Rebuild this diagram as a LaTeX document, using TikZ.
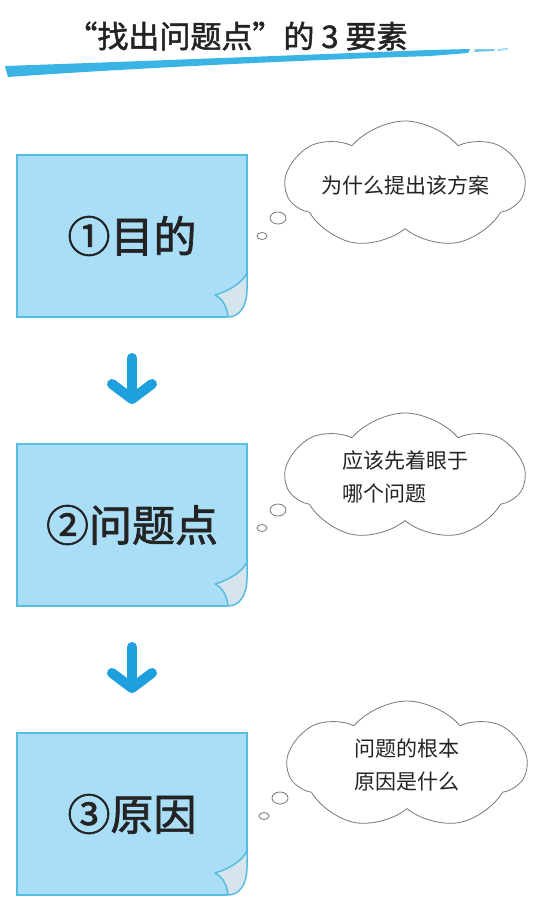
\documentclass[tikz,border=0pt]{standalone}
\usepackage{fontspec}
\usetikzlibrary{shapes.symbols, arrows.meta}
\newfontfamily\cjk{Noto Sans CJK SC}
\newfontfamily\cjkheavy[FakeBold=1.6]{Noto Sans CJK SC}
\definecolor{notefill}{RGB}{170,222,247}
\definecolor{noteline}{RGB}{86,188,226}
\definecolor{curlfill}{RGB}{214,228,236}
\definecolor{arrowblue}{RGB}{30,160,222}
\definecolor{brushblue}{RGB}{58,180,228}
\definecolor{cloudline}{RGB}{120,120,120}
\definecolor{inktext}{RGB}{35,35,35}
\tikzset{note/.style={rectangle,fill=notefill,draw=noteline,line width=2pt,outer sep=0pt,
        minimum width=230pt,minimum height=162pt,text=inktext,font=\cjkheavy\fontsize{43}{43}\selectfont},
    thought/.style={cloud,cloud puffs=7,cloud puff arc=100,cloud ignores aspect,draw=cloudline,
        line width=0.8pt,minimum width=238pt,minimum height=128pt,inner sep=0pt,align=left,
        text=inktext,font=\cjk\fontsize{21}{33}\selectfont},
    flow/.style={draw=arrowblue,line width=10pt,line cap=round,
        -{Straight Barb[length=15pt,width=40pt,round]},shorten <=41pt,shorten >=40pt},
    puff/.style={draw=cloudline,line width=0.8pt,fill=white}}
% folded corner of a note
\newcommand{\curl}[1]{\begin{scope}[shift={(#1.south east)}]
    \fill[white] (1.5,-30) -- (1.5,1.5) -- (-21,1.5) -- (-19,0) .. controls (-8,0) and (0,-10) .. (0,-28) -- cycle;
    \filldraw[fill=curlfill,draw=noteline,line width=1.5pt,line join=round] (-32,-22) .. controls (-18,-26) and (-5,-34) .. (0,-44)
        -- (0,-28) .. controls (0,-10) and (-8,0) .. (-19,0) .. controls (-20,-10) and (-24,-18) .. cycle;
    \end{scope}}
% small bubbles of a thought cloud
\newcommand{\puffs}[1]{\begin{scope}[shift={(#1.center)}]
    \draw[puff] (-127,33) ellipse (8pt and 6pt);
    \draw[puff] (-143,51) ellipse (5pt and 3.5pt);
    \end{scope}}

\begin{document}
\begin{tikzpicture}[x=1pt,y=-1pt]
    \useasboundingbox[fill=white] (0,0) rectangle (551,900);

    % title and brush stroke
    \fill[brushblue] (5,66) .. controls (120,62) and (300,55) .. (430,50) -- (432,56)
        .. controls (300,60) and (120,69) .. (8,77) -- cycle;
    \fill[brushblue] (430,50) -- (470,49) -- (468,53) -- (430,56) -- cycle;
    \fill[brushblue!70] (475,49) -- (495,49) -- (494,51) -- (474,52) -- cycle;
    \fill[brushblue!50] (498,49) -- (508,48) -- (507,50) -- (497,51) -- cycle;
    \node[text=inktext,font=\cjkheavy\fontsize{31}{31}\selectfont] (title) at (237,36) {“找出问题点”的 3 要素};

    \node[note] (goal) at (132,236) {①目的\hspace{16pt}};
    \node[note] (problem) at (132,525) {②问题点\hspace{16pt}};
    \node[note] (cause) at (132,814) {③原因\hspace{14pt}};
    \curl{goal}
    \curl{problem}
    \curl{cause}

    \draw[flow] (goal) -- (problem);
    \draw[flow] (problem) -- (cause);

    \node[thought] (why) at (405,185) {为什么提出该方案};
    \node[thought] (focus) at (405,477) {应该先着眼于\\哪个问题};
    \node[thought] (root) at (407,765) {问题的根本\\原因是什么};
    \puffs{why}
    \puffs{focus}
    \puffs{root}
\end{tikzpicture}
\end{document}
